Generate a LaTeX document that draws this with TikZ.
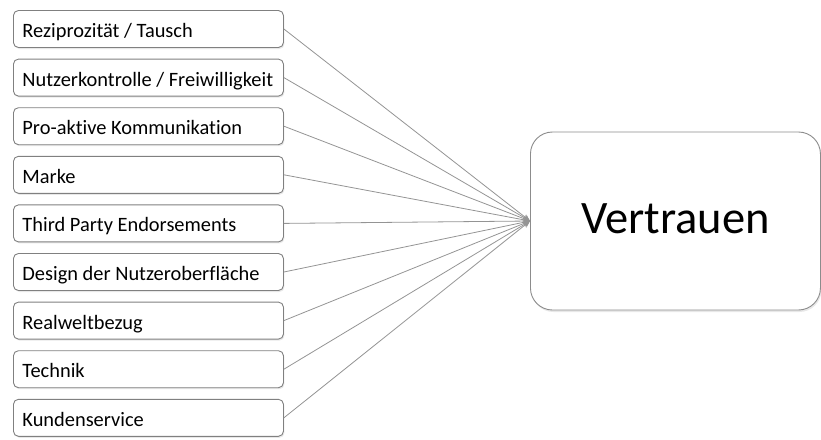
\documentclass[tikz,border=0pt]{standalone}
\usepackage{fontspec}
\setmainfont{Carlito}[Ligatures={NoCommon}]
\usetikzlibrary{shadows,arrows.meta}
\begin{document}
\begin{tikzpicture}[x=1pt,y=-1pt,
  factor/.style={draw=black!50, line width=0.9pt, rounded corners=5pt, fill=white,
    minimum height=37pt, inner xsep=9pt,
    text height=17pt, text depth=0pt,
    font=\fontsize{20.4}{22}\selectfont, anchor=west,
    drop shadow={opacity=0.18, shadow xshift=1pt, shadow yshift=-1.5pt}},
  target/.style={draw=black!45, line width=0.9pt, rounded corners=22pt, fill=white,
    minimum width=290pt, minimum height=178pt, inner sep=0pt, anchor=west,
    text height=24pt, text depth=0pt,
    font=\fontsize{46.5}{50}\selectfont,
    drop shadow={opacity=0.18, shadow xshift=1pt, shadow yshift=-2pt}},
  link/.style={draw=black!42, line width=0.8pt, -{Stealth[length=7pt,width=6pt]}}]
\useasboundingbox (0,0) rectangle (821,439);
\node[target] (V) at (530,221) {Vertrauen};
\foreach \t [count=\i from 0] in {Reziprozität / Tausch,
    Nutzerkontrolle / Freiwilligkeit,
    Pro-aktive Kommunikation,
    Marke,
    Third Party Endorsements,
    Design der Nutzeroberfläche,
    Realweltbezug,
    Technik,
    Kundenservice}{
  \node[factor] (f\i) at (13,{29+48.6*\i}) {\makebox[252pt][l]{\t}};
  \draw[link] (f\i.east) -- (V.west);
}
\end{tikzpicture}
\end{document}
